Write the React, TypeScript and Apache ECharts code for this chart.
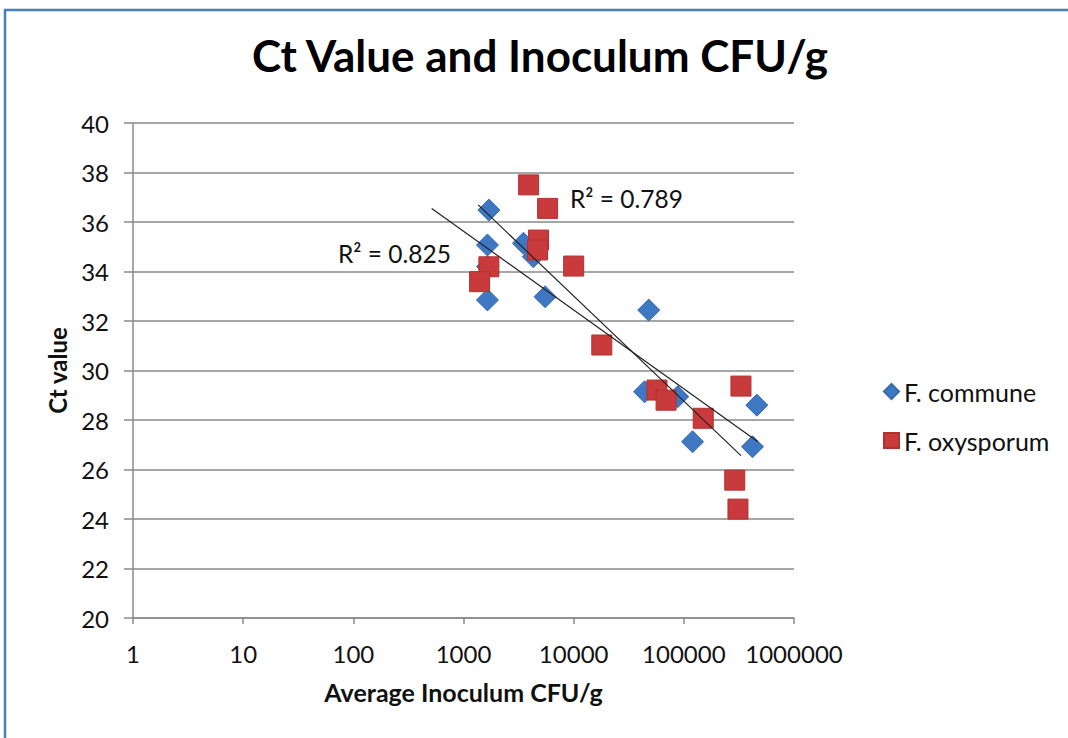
import React, { useEffect, useRef } from "react";
import * as echarts from "echarts";

const communeX = [1700, 1650, 1650, 1650, 3500, 4300, 5500, 48000, 44000, 88000, 120000, 460000, 420000];
const communeY = [36.48, 35.07, 34.2, 32.85, 35.14, 34.6, 32.98, 32.44, 29.14, 28.94, 27.12, 28.6, 26.92];

const oxysporumX = [3900, 5800, 4800, 4700, 1700, 1400, 10000, 18000, 57000, 69000, 150000, 330000, 290000, 310000];
const oxysporumY = [37.5, 36.55, 35.27, 34.87, 34.19, 33.59, 34.22, 31.03, 29.21, 28.8, 28.07, 29.37, 25.57, 24.4];

const communeTrendX = [514, 470000];
const communeTrendY = [36.55, 27.12];
const oxysporumTrendX = [1360, 330000];
const oxysporumTrendY = [36.69, 26.56];

const communeR2 = "R² = 0.825";
const oxysporumR2 = "R² = 0.789";

const title = "Ct Value and Inoculum CFU/g";
const xName = "Average Inoculum CFU/g";
const yName = "Ct value";
const seriesNames = ["F. commune", "F. oxysporum"];

const FONT = "Lato, 'Open Sans', sans-serif";
const AXIS_COLOR = "#8a8a8a";
const BLUE = "#3f78c2";
const RED = "#c83a3b";

const zip = (xs: number[], ys: number[]) => xs.map((x, i) => [x, ys[i]]);

export default function App() {
  const ref = useRef<HTMLDivElement>(null);
  useEffect(() => {
    if (!ref.current) return;
    const chart = echarts.init(ref.current, null, { renderer: "svg" });
    chart.setOption({
      animation: false,
      backgroundColor: "#ffffff",
      textStyle: { fontFamily: FONT },
      grid: { left: 133, right: 274, top: 123, bottom: 120, containLabel: false },
      legend: {
        orient: "vertical",
        left: 883,
        top: 379,
        padding: 0,
        itemWidth: 15,
        itemHeight: 15,
        itemGap: 24,
        textStyle: { fontFamily: FONT, fontSize: 25, color: "#111" },
        data: [
          { name: seriesNames[0], icon: "diamond" },
          { name: seriesNames[1], icon: "rect" },
        ],
      },
      graphic: [
        {
          type: "rect",
          shape: { x: 5, y: 10, width: 1080, height: 760 },
          style: { fill: "none", stroke: "#4a7ebb", lineWidth: 2.5 },
          silent: true,
        },
        {
          type: "text",
          x: 540,
          y: 55,
          style: {
            text: title,
            fontFamily: FONT,
            fontWeight: "bold",
            fontSize: 44,
            fill: "#000",
            align: "center",
            verticalAlign: "middle",
          },
        },
        {
          type: "text",
          x: 570,
          y: 198,
          z: 100,
          style: {
            text: oxysporumR2,
            fontFamily: FONT,
            fontSize: 24.5,
            fill: "#111",
            align: "left",
            verticalAlign: "middle",
          },
        },
        {
          type: "text",
          x: 338,
          y: 253,
          z: 100,
          style: {
            text: communeR2,
            fontFamily: FONT,
            fontSize: 24.5,
            fill: "#111",
            align: "left",
            verticalAlign: "middle",
          },
        },
      ],
      xAxis: {
        type: "log",
        logBase: 10,
        min: 1,
        max: 1000000,
        name: xName,
        nameLocation: "middle",
        nameGap: 61,
        nameTextStyle: { fontFamily: FONT, fontWeight: "bold", fontSize: 25, color: "#111" },
        axisLine: { show: true, lineStyle: { color: AXIS_COLOR, width: 1.5 } },
        axisTick: { show: true, length: 6, lineStyle: { color: AXIS_COLOR, width: 1.5 } },
        minorTick: { show: false },
        splitLine: { show: false },
        axisLabel: {
          fontFamily: FONT,
          fontSize: 24,
          color: "#111",
          margin: 23,
          formatter: (v: number) => String(Math.round(v)),
        },
      },
      yAxis: {
        type: "value",
        min: 20,
        max: 40,
        interval: 2,
        name: yName,
        nameLocation: "middle",
        nameGap: 64,
        nameTextStyle: { fontFamily: FONT, fontWeight: "bold", fontSize: 24, color: "#111" },
        axisLine: { show: true, lineStyle: { color: AXIS_COLOR, width: 1.5 } },
        axisTick: { show: true, length: 9, lineStyle: { color: AXIS_COLOR, width: 1.5 } },
        splitLine: { show: true, lineStyle: { color: AXIS_COLOR, width: 1.5 } },
        axisLabel: { fontFamily: FONT, fontSize: 24, color: "#111", margin: 24 },
      },
      series: [
        {
          name: seriesNames[0],
          type: "scatter",
          symbol: "diamond",
          symbolSize: 22,
          itemStyle: { color: BLUE, borderColor: "#356aad", borderWidth: 1, opacity: 1 },
          data: zip(communeX, communeY),
          z: 2,
        },
        {
          name: seriesNames[1],
          type: "scatter",
          symbol: "rect",
          symbolSize: 20,
          itemStyle: { color: RED, borderColor: "#b33031", borderWidth: 1, opacity: 1 },
          data: zip(oxysporumX, oxysporumY),
          z: 3,
        },
        {
          name: "commune trend",
          type: "line",
          showSymbol: false,
          silent: true,
          data: zip(communeTrendX, communeTrendY),
          lineStyle: { color: "#222", width: 1.2 },
          z: 4,
        },
        {
          name: "oxysporum trend",
          type: "line",
          showSymbol: false,
          silent: true,
          data: zip(oxysporumTrendX, oxysporumTrendY),
          lineStyle: { color: "#222", width: 1.2 },
          z: 4,
        },
      ],
    });
    return () => chart.dispose();
  }, []);
  return (
    <div
      ref={ref}
      style={{ position: "fixed", left: 0, top: 0, width: 1068, height: 738, background: "#fff" }}
    />
  );
}
